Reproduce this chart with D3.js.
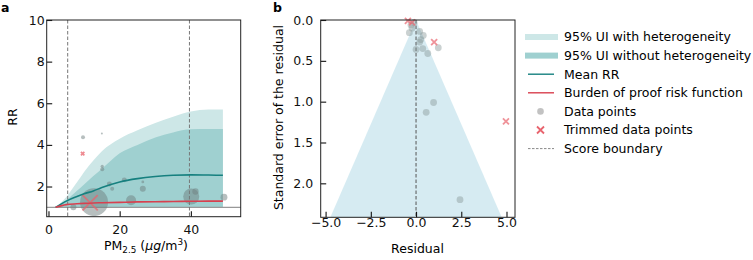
<!DOCTYPE html>
<html>
<head>
<meta charset="utf-8">
<script src="https://cdn.jsdelivr.net/npm/d3@7"></script>
<style>
  body { margin: 0; background: #fff; }
  svg { font-family: "DejaVu Sans", sans-serif; }
</style>
</head>
<body>
<svg id="chart" width="753" height="260"></svg>
<script>
// panel a: exposure-response curve
const pmGrid = [2, 5, 8, 10, 12.6, 15, 20, 25, 30, 35, 40, 45, 49];
const meanRR = [1.0, 1.3, 1.52, 1.65, 1.79, 1.95, 2.22, 2.38, 2.48, 2.54, 2.56, 2.55, 2.54];
const bopRR = [1.0, 1.13, 1.17, 1.19, 1.21, 1.22, 1.24, 1.26, 1.27, 1.28, 1.29, 1.3, 1.3];
const uiHetLo = [1.0, 0.98, 0.97, 0.97, 0.97, 0.97, 0.97, 0.97, 0.97, 0.97, 0.97, 0.97, 0.97];
const uiHetHi = [1.0, 1.5, 2.2, 2.7, 3.25, 3.7, 4.3, 4.7, 5.05, 5.35, 5.6, 5.7, 5.7];
const uiLo = [1.0, 1.0, 1.0, 1.0, 1.0, 1.0, 1.0, 1.0, 1.0, 1.0, 1.0, 1.0, 1.0];
const uiHi = [1.0, 1.35, 1.8, 2.1, 2.5, 2.85, 3.6, 4.0, 4.35, 4.6, 4.75, 4.76, 4.76];

const obsPM = [12.8, 7.0, 23.2, 40.1, 41.3, 49.3, 26.5, 21.3, 17.1, 17.9, 15.1, 15.1, 9.7, 15.0, 26.5];
const obsRR = [1.25, 1.0, 1.34, 1.52, 1.76, 1.49, 1.89, 2.32, 2.12, 1.89, 2.83, 2.97, 4.37, 4.55, 2.22];
const obsW = [196, 9, 25, 64, 10, 12, 9, 6, 6, 4, 4, 2.5, 4, 1, 2];
const trimPM = [11.7, 9.6];
const trimRR = [1.22, 3.58];
const trimW = [160, 8];

const scoreBounds = [5.4, 39.6];
const xTicksA = [0, 20, 40];
const yTicksA = [2, 4, 6, 8, 10];

// panel b: funnel plot
const obsRes = [-0.37, -0.22, -0.11, -0.28, 0.2, 0.4, 0.2, 0.26, 0.0, 0.37, 0.65, 1.23, 0.97, 0.56, 2.43];
const obsSE = [0.155, 0.1, 0.03, 0.06, 0.14, 0.19, 0.27, 0.24, 0.36, 0.35, 0.41, 0.34, 1.01, 1.13, 2.2];
const trimRes = [-0.45, -0.22, 1.0, 4.97];
const trimSE = [0.01, 0.03, 0.27, 1.24];
const xTicksB = [-5, -2.5, 0, 2.5, 5];
const yTicksB = [0, 0.5, 1, 1.5, 2];

const legendLabels = [
  "95% UI with heterogeneity",
  "95% UI without heterogeneity",
  "Mean RR",
  "Burden of proof risk function",
  "Data points",
  "Trimmed data points",
  "Score boundary"
];

const colLight = "#cde7e7";
const colDark = "#9fd0d0";
const colMean = "#16807f";
const colRed = "#d8404f";
const colTrim = "#e8646e";
const fs = 12.5;

const svg = d3.select("#chart");
const fmt = d => d3.format(".1f")(d).replace("-", "\u2212");

function xMark(s) {
  return `M${-s},${-s}L${s},${s}M${-s},${s}L${s},${-s}`;
}

// ---------- panel a ----------
const xA = d3.scaleLinear().domain([-0.5, 54]).range([46.7, 240.7]);
const yA = d3.scaleLinear().domain([0.55, 10]).range([216.7, 20]);
const rA = d3.scaleSqrt().domain([0, 196]).range([0, 14]);
const gA = svg.append("g");

const grid = pmGrid.map((x, i) => ({ x, i }));
const band = (lo, hi) =>
  d3.area().x(d => xA(d.x)).y0(d => yA(lo[d.i])).y1(d => yA(hi[d.i])).curve(d3.curveMonotoneX);
const line = vals =>
  d3.line().x(d => xA(d.x)).y(d => yA(vals[d.i])).curve(d3.curveMonotoneX);

gA.append("path").datum(grid).attr("d", band(uiHetLo, uiHetHi)).attr("fill", colLight);
gA.append("path").datum(grid).attr("d", band(uiLo, uiHi)).attr("fill", colDark);

gA.append("line")
  .attr("x1", xA.range()[0]).attr("x2", xA.range()[1])
  .attr("y1", yA(1)).attr("y2", yA(1))
  .attr("stroke", "#999").attr("stroke-width", 1.3);

gA.selectAll("line.vb")
  .data(scoreBounds)
  .join("line")
  .attr("class", "vb")
  .attr("x1", d => xA(d)).attr("x2", d => xA(d))
  .attr("y1", yA.range()[1]).attr("y2", yA.range()[0])
  .attr("stroke", "#777").attr("stroke-width", 1)
  .attr("stroke-dasharray", "3.5,2");

gA.selectAll("circle")
  .data(obsPM.map((x, i) => ({ x, y: obsRR[i], w: obsW[i] })))
  .join("circle")
  .attr("cx", d => xA(d.x))
  .attr("cy", d => yA(d.y))
  .attr("r", d => rA(d.w))
  .attr("fill", "#6f7f7f")
  .attr("fill-opacity", 0.5);

gA.selectAll("path.tr")
  .data(trimPM.map((x, i) => ({ x, y: trimRR[i], w: trimW[i] })))
  .join("path")
  .attr("class", "tr")
  .attr("transform", d => `translate(${xA(d.x)},${yA(d.y)})`)
  .attr("d", d => xMark(rA(d.w) * 0.6))
  .attr("stroke", colTrim)
  .attr("stroke-opacity", 0.75)
  .attr("stroke-width", 1.8);

gA.append("path").datum(grid).attr("d", line(meanRR))
  .attr("fill", "none").attr("stroke", colMean).attr("stroke-width", 1.6);
gA.append("path").datum(grid).attr("d", line(bopRR))
  .attr("fill", "none").attr("stroke", colRed).attr("stroke-width", 1.6);

gA.append("g")
  .attr("transform", `translate(${xA.range()[0]},0)`)
  .call(d3.axisLeft(yA).tickValues(yTicksA).tickSizeInner(-5.5).tickSizeOuter(0).tickPadding(2))
  .call(g => g.select(".domain").remove());
gA.append("g")
  .attr("transform", `translate(0,${yA.range()[0]})`)
  .call(d3.axisBottom(xA).tickValues(xTicksA).tickSizeInner(-5.5).tickSizeOuter(0).tickPadding(8.5))
  .call(g => g.select(".domain").remove());

gA.append("rect")
  .attr("x", xA.range()[0]).attr("y", yA.range()[1])
  .attr("width", xA.range()[1] - xA.range()[0])
  .attr("height", yA.range()[0] - yA.range()[1])
  .attr("fill", "none").attr("stroke", "#222").attr("stroke-width", 1);

gA.append("text")
  .attr("transform", "translate(16.5,117) rotate(-90)")
  .attr("text-anchor", "middle")
  .attr("font-size", fs)
  .text("RR");

const pmLabel = gA.append("text")
  .attr("x", 146).attr("y", 250)
  .attr("text-anchor", "middle")
  .attr("font-size", fs);
pmLabel.append("tspan").text("PM");
pmLabel.append("tspan").attr("font-size", 8.8).attr("dy", 3).text("2.5");
pmLabel.append("tspan").attr("dy", -3).text(" (");
pmLabel.append("tspan").attr("font-style", "italic").text("\u03bcg");
pmLabel.append("tspan").text("/m");
pmLabel.append("tspan").attr("font-size", 8.8).attr("dy", -5).text("3");
pmLabel.append("tspan").attr("dy", 5).text(")");

svg.append("text").attr("x", 1).attr("y", 11.5).attr("font-size", fs)
  .attr("font-weight", "bold").text("a");

// ---------- panel b ----------
const xB = d3.scaleLinear().domain([-5.27, 5.47]).range([320.7, 515]);
const yB = d3.scaleLinear().domain([0, 2.416]).range([20, 217.3]);
const gB = svg.append("g");

const seMax = yB.domain()[1];
gB.append("path")
  .datum([[0, 0], [-1.96 * seMax, seMax], [1.96 * seMax, seMax]])
  .attr("d", d3.line().x(d => xB(d[0])).y(d => yB(d[1])))
  .attr("fill", "#add8e6").attr("fill-opacity", 0.5);

gB.append("line")
  .attr("x1", xB(0)).attr("x2", xB(0))
  .attr("y1", yB.range()[0]).attr("y2", yB.range()[1])
  .attr("stroke", "#555").attr("stroke-width", 1)
  .attr("stroke-dasharray", "3.5,2");

gB.selectAll("circle")
  .data(obsRes.map((x, i) => ({ x, y: obsSE[i] })))
  .join("circle")
  .attr("cx", d => xB(d.x))
  .attr("cy", d => yB(d.y))
  .attr("r", 3.4)
  .attr("fill", "#8a9a9a")
  .attr("fill-opacity", 0.45);

gB.selectAll("path.tr")
  .data(trimRes.map((x, i) => ({ x, y: trimSE[i] })))
  .join("path")
  .attr("class", "tr")
  .attr("transform", d => `translate(${xB(d.x)},${yB(d.y)})`)
  .attr("d", xMark(3))
  .attr("stroke", colTrim)
  .attr("stroke-opacity", 0.7)
  .attr("stroke-width", 1.8);

gB.append("g")
  .attr("transform", `translate(${xB.range()[0]},0)`)
  .call(d3.axisLeft(yB).tickValues(yTicksB).tickFormat(fmt).tickSizeInner(-5.5).tickSizeOuter(0).tickPadding(7.5))
  .call(g => g.select(".domain").remove());
gB.append("g")
  .attr("transform", `translate(0,${yB.range()[1]})`)
  .call(d3.axisBottom(xB).tickValues(xTicksB).tickFormat(fmt).tickSizeInner(-5.5).tickSizeOuter(0).tickPadding(1))
  .call(g => g.select(".domain").remove());

gB.append("rect")
  .attr("x", xB.range()[0]).attr("y", yB.range()[0])
  .attr("width", xB.range()[1] - xB.range()[0])
  .attr("height", yB.range()[1] - yB.range()[0])
  .attr("fill", "none").attr("stroke", "#222").attr("stroke-width", 1);

gB.append("text")
  .attr("transform", "translate(283,117.5) rotate(-90)")
  .attr("text-anchor", "middle")
  .attr("font-size", fs)
  .text("Standard error of the residual");

gB.append("text")
  .attr("x", 417.5).attr("y", 253)
  .attr("text-anchor", "middle")
  .attr("font-size", fs)
  .text("Residual");

svg.append("text").attr("x", 273).attr("y", 11.5).attr("font-size", fs)
  .attr("font-weight", "bold").text("b");

svg.selectAll(".tick text").attr("font-size", fs).attr("font-family", "DejaVu Sans").attr("fill", "#111");
svg.selectAll(".tick line").attr("stroke", "#111").attr("stroke-width", 1.1);

// ---------- legend ----------
const leg = svg.append("g").attr("font-size", fs);
const row = d3.scaleLinear().domain([0, 1]).range([37, 55.6]);
const hx0 = 526, hx1 = 557, hxc = (hx0 + hx1) / 2;

legendLabels.forEach((t, i) => {
  const y = row(i);
  const g = leg.append("g");
  if (i < 2) {
    g.append("rect").attr("x", hx0 - 1).attr("y", y - 3).attr("width", hx1 - hx0 + 2).attr("height", 6)
      .attr("fill", i === 0 ? colLight : colDark);
  } else if (i === 2 || i === 3 || i === 6) {
    g.append("line").attr("x1", hx0 + 2).attr("x2", hx1 - 3).attr("y1", y).attr("y2", y)
      .attr("stroke", i === 2 ? colMean : i === 3 ? colRed : "#888")
      .attr("stroke-width", i === 6 ? 1 : 1.4)
      .attr("stroke-dasharray", i === 6 ? "2.5,1.5" : null);
  } else if (i === 4) {
    g.append("circle").attr("cx", hxc - 1).attr("cy", y).attr("r", 3.3)
      .attr("fill", "#999").attr("fill-opacity", 0.6);
  } else {
    g.append("path").attr("transform", `translate(${hxc - 1},${y})`).attr("d", xMark(3.5))
      .attr("stroke", colTrim).attr("stroke-width", 1.8);
  }
  g.append("text").attr("x", 564).attr("y", y).attr("dy", "0.35em").text(t);
});
</script>
</body>
</html>
